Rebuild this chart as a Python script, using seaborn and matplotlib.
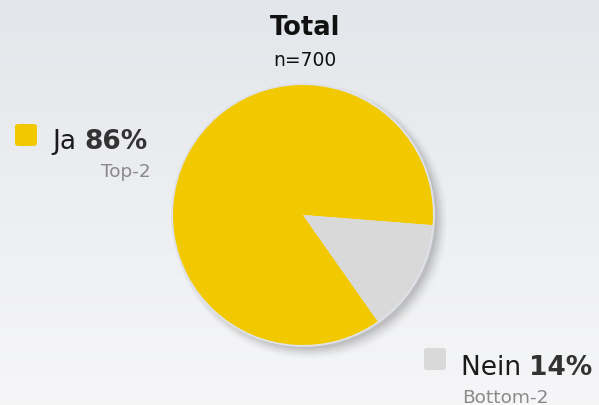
import numpy as np
import matplotlib
matplotlib.use("Agg")
import matplotlib.pyplot as plt
from matplotlib.patches import Circle, FancyBboxPatch
import seaborn as sns

# ---- data ----
title = "Total"
subtitle = "n=700"
categories = ["Ja", "Nein"]
values = [86, 14]
sublabels = ["Top-2", "Bottom-2"]
colors = ["#f2c900", "#d9d9d9"]

sns.set_theme(style="white")
plt.rcParams['font.family'] = ['DejaVu Sans']

W, H = 599, 406
fig = plt.figure(figsize=(W / 100, H / 100), dpi=100)

# background gradient
bg = fig.add_axes([0, 0, 1, 1], zorder=-10)
top = np.array([0.890, 0.902, 0.918])
bot = np.array([0.965, 0.965, 0.972])
t = np.linspace(0, 1, 256)[:, None]
grad = top[None, :] * (1 - t) + bot[None, :] * t
bg.imshow(grad[:, None, :], aspect="auto", extent=[0, 1, 0, 1])
bg.set_axis_off()

# pie axes
cx, cy, R = 303, 216, 130
half = R * 1.1
ax = fig.add_axes([(cx - half) / W, (H - cy - half) / H, 2 * half / W, 2 * half / H])
ax.set_xlim(-1.1, 1.1)
ax.set_ylim(-1.1, 1.1)
ax.set_aspect("equal")
ax.set_axis_off()

# shadow
for i, a in enumerate(np.linspace(0.12, 0.02, 6)):
    ax.add_patch(Circle((0.035 + 0.004 * i, -0.03 - 0.004 * i), 1.0 + 0.012 * i,
                        color="#6a6a6a", alpha=a, lw=0, zorder=0))
# rim
ax.add_patch(Circle((0, 0), 1.015, color="#dfe2e8", lw=0, zorder=1))

wedges, _ = ax.pie(values, colors=colors, startangle=-4.5, counterclock=True,
                   radius=1.0, wedgeprops=dict(linewidth=0, zorder=2))
for w in wedges:
    w.set_zorder(2)
ax.set_xlim(-1.1, 1.1)
ax.set_ylim(-1.1, 1.1)

# titles
fig.text(305 / W, 1 - 35 / H, title, ha="center", va="baseline",
         fontsize=18.5, fontweight="bold", color="#111111")
fig.text(305 / W, 1 - 66 / H, subtitle, ha="center", va="baseline",
         fontsize=13.5, color="#111111")

renderer = fig.canvas.get_renderer()


def legend_entry(sq_x, sq_y, color, name, pct, sub, tx, base, sub_base, sub_ha, sub_x):
    sq = FancyBboxPatch((sq_x / W, 1 - (sq_y + 24) / H), 22 / W, 22 / H,
                        boxstyle="round,pad=0,rounding_size=0.006",
                        transform=fig.transFigure, facecolor=color, edgecolor="none")
    fig.patches.append(sq)
    t1 = fig.text(tx / W, 1 - base / H, name + " ", ha="left", va="baseline",
                  fontsize=19, color="#1a1a1a")
    bb = t1.get_window_extent(renderer)
    fig.text(bb.x1 / W, 1 - base / H, f"{pct}%", ha="left", va="baseline",
             fontsize=19, fontweight="bold", color="#333333")
    fig.text(sub_x / W, 1 - sub_base / H, sub, ha=sub_ha, va="baseline",
             fontsize=13.3, color="#8a8a8a")


legend_entry(15, 123, colors[0], categories[0], values[0], sublabels[0],
             52, 149, 177, "right", 151)
legend_entry(424, 347, colors[1], categories[1], values[1], sublabels[1],
             461, 375, 403, "left", 462)

fig.savefig("out.png", dpi=100)
